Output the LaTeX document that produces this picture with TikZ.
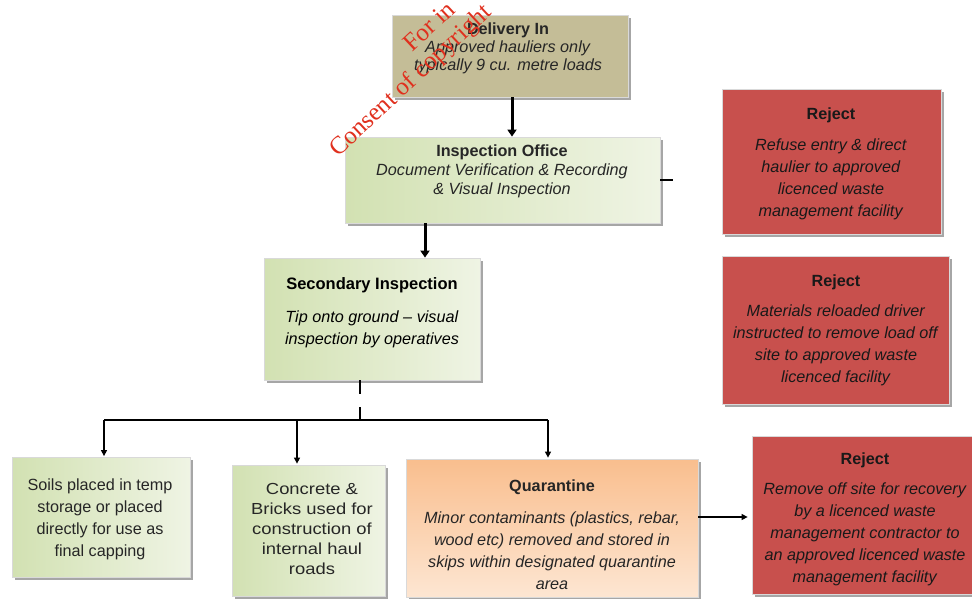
\documentclass[tikz,border=0pt]{standalone}
\usepackage{fontspec}
\setmainfont{Liberation Sans}
\newfontfamily\wmfont{Liberation Serif}
\newfontfamily\widefont[FakeStretch=1.15]{Liberation Sans}
\usetikzlibrary{shadows,arrows.meta}
\definecolor{tanfill}{HTML}{C4BD97}
\definecolor{greenA}{HTML}{D2E1B2}
\definecolor{greenB}{HTML}{EFF4E4}
\definecolor{orangeA}{HTML}{FDE6D2}
\definecolor{orangeB}{HTML}{F9BE8E}
\definecolor{rejectred}{HTML}{C8504D}
\definecolor{txt}{HTML}{262626}
\definecolor{wmred}{HTML}{E0301E}
\tikzset{
  box/.style={rectangle, draw=white!85!black, line width=0.8pt, inner sep=0pt,
    drop shadow={shadow xshift=2.5pt, shadow yshift=-2.5pt, fill=black, opacity=0.35}},
  tanbox/.style={box, fill=tanfill},
  greenbox/.style={box, left color=greenA, right color=greenB},
  orangebox/.style={box, shading angle=225, top color=orangeB, bottom color=orangeA},
  rejectbox/.style={box, fill=rejectred},
  boxtext/.style={align=center, inner sep=0pt, text=txt, font=\fontsize{16.2}{22}\selectfont},
  thickarrow/.style={line width=3pt, -{Triangle[width=9pt,length=7pt]}},
  thinarrow/.style={line width=1.3pt, -{Triangle[width=6pt,length=6pt]}},
  thinline/.style={line width=1.3pt},
  watermark/.style={rotate=43, anchor=base west, inner sep=0pt, text=wmred, font=\wmfont\fontsize{25}{25}\selectfont}
}
\begin{document}
\begin{tikzpicture}[x=1pt,y=-1pt]
\useasboundingbox (0,0) rectangle (972,598);

% boxes
\node[tanbox, minimum width=236pt, minimum height=82pt] (delivery) at (510,56) {};
\node[greenbox, minimum width=315pt, minimum height=86pt] (office) at (502.5,180) {};
\node[greenbox, minimum width=216pt, minimum height=122pt] (secondary) at (372,319) {};
\node[rejectbox, minimum width=219pt, minimum height=145pt] (reject1) at (831.5,161.5) {};
\node[rejectbox, minimum width=227pt, minimum height=148pt] (reject2) at (835.5,330) {};
\node[greenbox, minimum width=178pt, minimum height=120pt] (soils) at (101,517.5) {};
\node[greenbox, minimum width=153pt, minimum height=131pt] (concrete) at (308.5,530.5) {};
\node[orangebox, minimum width=292pt, minimum height=138pt] (quarantine) at (552,528) {};
\node[rejectbox, minimum width=224pt, minimum height=158pt] (reject3) at (864,515) {};

% texts
\node[boxtext, font=\fontsize{16.2}{18}\selectfont] (deliveryT) at (508,48)
  {\textbf{Delivery In}\\ \textit{Approved hauliers only}\\ \textit{typically 9 cu. metre loads}};
\node[boxtext, font=\fontsize{16.2}{19}\selectfont] (officeT) at (502,171)
  {\textbf{Inspection Office}\\ \textit{Document Verification \& Recording}\\ \textit{\& Visual Inspection}};
\node[boxtext, text=black] (secondaryT) at (372,313)
  {{\fontsize{16.5}{22}\selectfont\textbf{Secondary Inspection}}\\[11pt] \textit{Tip onto ground -- visual}\\ \textit{inspection by operatives}};
\node[boxtext, text=black!90] (reject1T) at (831,164)
  {\textbf{Reject}\\[9pt] \textit{Refuse entry \& direct}\\ \textit{haulier to approved}\\ \textit{licenced waste}\\ \textit{management facility}};
\node[boxtext, text=black!90] (reject2T) at (836,330)
  {\textbf{Reject}\\[8pt] \textit{Materials reloaded driver}\\ \textit{instructed to remove load off}\\ \textit{site to approved waste}\\ \textit{licenced facility}};
\node[boxtext] (soilsT) at (100,519)
  {Soils placed in temp\\ storage or placed\\ directly for use as\\ final capping};
\node[boxtext, font=\widefont\fontsize{16}{20}\selectfont] (concreteT) at (312,529)
  {Concrete \&\\ Bricks used for\\ construction of\\ internal haul\\ roads};
\node[boxtext] (quarantineT) at (552,535)
  {\textbf{Quarantine}\\[10pt] \textit{Minor contaminants (plastics, rebar,}\\ \textit{wood etc) removed and stored in}\\ \textit{skips within designated quarantine}\\ \textit{area}};
\node[boxtext, text=black!90] (reject3T) at (865,519)
  {\textbf{Reject}\\[8pt] \textit{Remove off site for recovery}\\ \textit{by a licenced waste}\\ \textit{management contractor to}\\ \textit{an approved licenced waste}\\ \textit{management facility}};

% connectors
\coordinate (d2o) at (512,0);
\draw[thickarrow] (delivery.south -| d2o) -- (office.north -| d2o);
\coordinate (o2s) at (425,0);
\draw[thickarrow] (office.south -| o2s) -- (secondary.north -| o2s);
\coordinate (stub) at ([xshift=13pt]office.east);
\draw[line width=1.5pt] (office.east) -- (stub);

\coordinate (bus) at (360,420);
\draw[thinline, dash pattern=on 14pt off 13pt] (bus |- secondary.south) -- (bus);
\coordinate (busL) at (104,420);
\coordinate (busM) at (297,420);
\coordinate (busR) at (548,420);
\draw[thinline] (busL) -- (busR);
\draw[thinarrow] (busL) -- ([yshift=1pt]busL |- soils.north);
\draw[thinarrow] (busM) -- ([yshift=1pt]busM |- concrete.north);
\draw[thinarrow] (busR) -- ([yshift=1pt]busR |- quarantine.north);

\coordinate (qa) at ([yshift=11pt]quarantine.east);
\draw[thinarrow] (qa) -- ([xshift=-4pt]qa -| reject3.west);

% watermark
\node[watermark] (wm1) at (412,53) {For in};
\node[watermark] (wm2) at (338,158) {Consent of copyright};
\end{tikzpicture}
\end{document}
